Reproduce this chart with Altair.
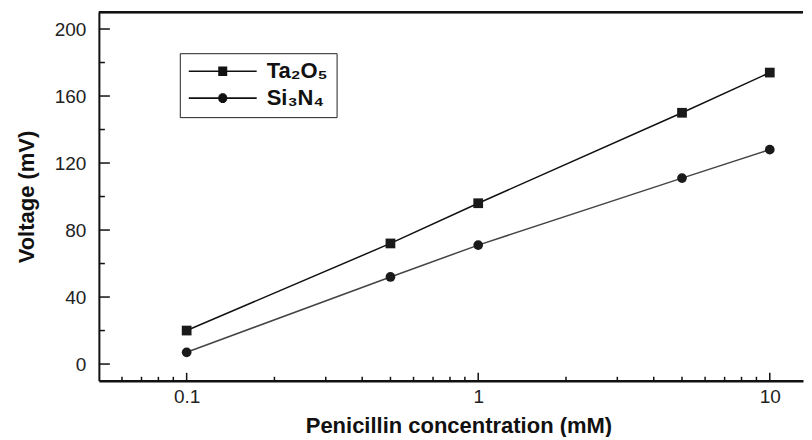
import math
import altair as alt
import pandas as pd

# ---- data ----
conc = [0.1, 0.5, 1, 5, 10]
ta2o5 = [20, 72, 96, 150, 174]
si3n4 = [7, 52, 71, 111, 128]
series_names = ["Ta₂O₅", "Si₃N₄"]

x_major = [0.1, 1, 10]
x_minor = [0.06, 0.07, 0.08, 0.09, 0.2, 0.3, 0.4, 0.5, 0.6, 0.7, 0.8, 0.9,
           2, 3, 4, 5, 6, 7, 8, 9]
y_major = [0, 40, 80, 120, 160, 200]
y_minor = [20, 60, 100, 140, 180]

W, H = 705, 369
FONT = "Liberation Sans"

rows = []
for c, a, b in zip(conc, ta2o5, si3n4):
    rows.append({"conc": c, "value": a, "series": series_names[0]})
    rows.append({"conc": c, "value": b, "series": series_names[1]})
df = pd.DataFrame(rows)

xs = alt.Scale(type="log", domain=[0.05, 13], nice=False)
ys = alt.Scale(domain=[-10, 210], nice=False, zero=False)
cs = alt.Scale(domain=series_names, range=["#111111", "#444444"])

x_axis = alt.Axis(values=x_major, format="~g", tickSize=0, labelPadding=7,
                  labelFontSize=19, labelFont=FONT, labelColor="#222",
                  domainColor="#111", domainWidth=2.5, grid=False,
                  title="Penicillin concentration (mM)", titleFont=FONT,
                  titleFontSize=22, titleFontWeight="bold", titleColor="#111",
                  titlePadding=9, titleX=360, labelFlush=False)
y_axis = alt.Axis(values=y_major, tickSize=0, labelPadding=13,
                  labelFontSize=19, labelFont=FONT, labelColor="#222",
                  domainColor="#111", domainWidth=2, grid=False,
                  title="Voltage (mV)", titleFont=FONT, titleFontSize=22,
                  titleFontWeight="bold", titleColor="#111", titlePadding=16)

lines = alt.Chart(df).mark_line(strokeWidth=1.5).encode(
    x=alt.X("conc:Q", scale=xs, axis=x_axis),
    y=alt.Y("value:Q", scale=ys, axis=y_axis),
    color=alt.Color("series:N", scale=cs, legend=None),
    detail="series:N",
)

points = alt.Chart(df).mark_point(filled=True, size=95, opacity=1, color="#1a1a1a").encode(
    x=alt.X("conc:Q", scale=xs, axis=x_axis),
    y=alt.Y("value:Q", scale=ys, axis=y_axis),
    shape=alt.Shape("series:N",
                    scale=alt.Scale(domain=series_names, range=["square", "circle"]),
                    legend=None),
)

# legend glyphs: a 68px line with a solid marker drawn from stroked scan lines
U = 34.0  # px per path unit (symbolSize 4624 -> sqrt/2)
def _sq(half):
    parts = ["M-1,0L1,0"]
    k = -half + 0.5
    while k <= half - 0.5 + 1e-9:
        parts.append(f"M{-half / U:.4f},{k / U:.4f}L{half / U:.4f},{k / U:.4f}")
        k += 1.0
    return "".join(parts)

def _ci(r):
    parts = ["M-1,0L1,0"]
    k = -r + 0.5
    while k <= r - 0.5 + 1e-9:
        w = math.sqrt(max(r * r - k * k, 0.0))
        parts.append(f"M{-w / U:.4f},{k / U:.4f}L{w / U:.4f},{k / U:.4f}")
        k += 1.0
    return "".join(parts)

sym_square = _sq(4.5)
sym_circle = _ci(4.5)

legend_layer = alt.Chart(df).transform_calculate(
    entry="datum.series"
).transform_filter("false").mark_point(
    filled=False, color="#111", opacity=1, strokeWidth=1.6
).encode(
    x=alt.X("conc:Q", scale=xs, axis=x_axis),
    y=alt.Y("value:Q", scale=ys, axis=y_axis),
    shape=alt.Shape("entry:N",
                    scale=alt.Scale(domain=series_names, range=[sym_square, sym_circle]),
                    legend=alt.Legend(title=None, orient="none", legendX=81, legendY=41,
                                      strokeColor="#222", padding=8, clipHeight=20,
                                      rowPadding=5, labelOffset=9, symbolSize=4624,
                                      symbolOpacity=1, symbolStrokeWidth=1.6,
                                      symbolStrokeColor="#111",
                                      labelFont=FONT, labelFontSize=22,
                                      labelFontWeight="bold", labelColor="#111")),
)

xmaj_df = pd.DataFrame({"t": x_major})
xmin_df = pd.DataFrame({"t": x_minor})
ymaj_df = pd.DataFrame({"t": y_major})
ymin_df = pd.DataFrame({"t": y_minor})

xmaj_ticks = alt.Chart(xmaj_df).mark_rule(color="#111", strokeWidth=1.5).encode(
    x=alt.X("t:Q", scale=xs, axis=x_axis), y=alt.value(H), y2=alt.value(H - 8))
xmin_ticks = alt.Chart(xmin_df).mark_rule(color="#111", strokeWidth=1.5).encode(
    x=alt.X("t:Q", scale=xs, axis=x_axis), y=alt.value(H), y2=alt.value(H - 4))
ymaj_ticks = alt.Chart(ymaj_df).mark_rule(color="#111", strokeWidth=1.5).encode(
    y=alt.Y("t:Q", scale=ys, axis=y_axis), x=alt.value(0), x2=alt.value(11))
ymin_ticks = alt.Chart(ymin_df).mark_rule(color="#111", strokeWidth=1.5).encode(
    y=alt.Y("t:Q", scale=ys, axis=y_axis), x=alt.value(0), x2=alt.value(6))

top_border = alt.Chart(xmaj_df).mark_rule(color="#111", strokeWidth=2).encode(
    x=alt.value(0), x2=alt.value(W), y=alt.value(0))

chart = alt.layer(
    lines, points, legend_layer, xmaj_ticks, xmin_ticks, ymaj_ticks, ymin_ticks, top_border
).resolve_scale(shape="independent").properties(
    width=W, height=H,
    padding={"left": 7, "top": 3, "right": 0, "bottom": 0},
    background="white",
).configure_view(stroke=None)

chart.save("out.html", embed_options={"renderer": "svg", "actions": False})
